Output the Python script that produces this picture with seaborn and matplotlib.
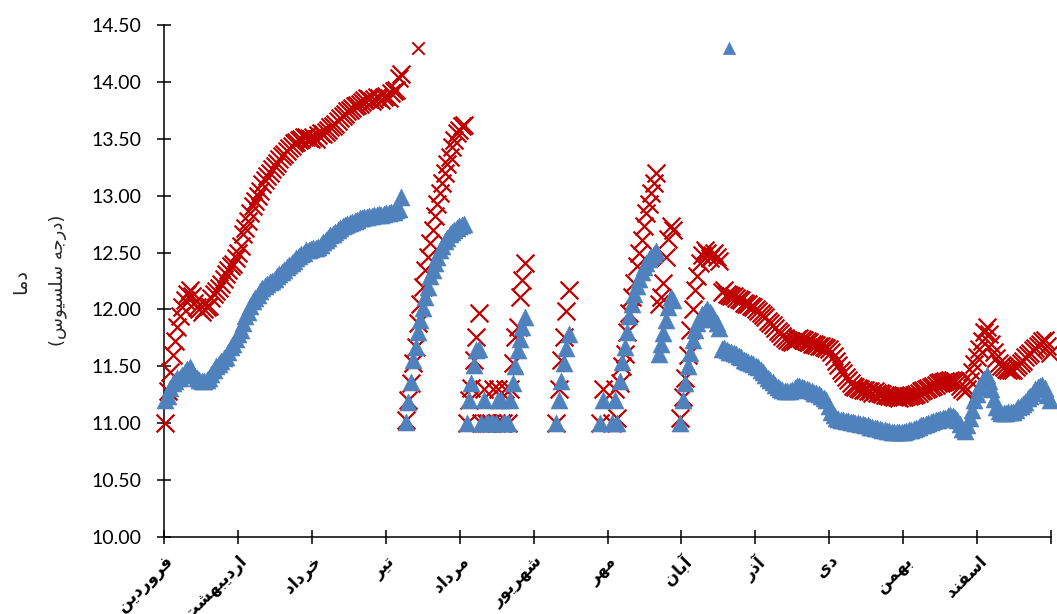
import numpy as np
import pandas as pd
import matplotlib
matplotlib.use("Agg")
import matplotlib.pyplot as plt
import seaborn as sns

# ---------------------------------------------------------------------------
# Data: daily temperature (deg C) for the Persian year, day 1 = 1 Farvardin.
# Each segment is (first day, values); None = no reading that day.
# ---------------------------------------------------------------------------
months = ['فروردین', 'اردیبهشت', 'خرداد', 'تیر', 'مرداد', 'شهریور',
          'مهر', 'آبان', 'آذر', 'دی', 'بهمن', 'اسفند']
n_days = 365
y_ticks = [10.0, 10.5, 11.0, 11.5, 12.0, 12.5, 13.0, 13.5, 14.0, 14.5]

red_s1 = [11.00, 11.28, 11.45, 11.60, 11.72, 11.85, 11.94, 12.02, 12.08, 12.14,
          12.17, 12.12, 12.06, 12.02, 12.00, 11.98, 12.00, 12.02, 12.03, 12.10,
          12.14, 12.16, 12.19, 12.22, 12.27, 12.31, 12.35, 12.38, 12.40, 12.45,
          12.50, 12.56, 12.66, 12.72, 12.78, 12.85, 12.91, 12.95, 13.00, 13.04,
          13.10, 13.14, 13.17, 13.20, 13.23, 13.26, 13.29, 13.32, 13.35, 13.37,
          13.39, 13.42, 13.44, 13.46, 13.47, 13.49, 13.50, 13.52, 13.52, 13.51,
          13.50, 13.52, 13.50, 13.53, 13.55, 13.54, 13.56, 13.58, 13.60, 13.61,
          13.63, 13.66, 13.68, 13.70, 13.72, 13.74, 13.75, 13.77, 13.79, 13.80,
          13.81, 13.82, 13.84, 13.86, 13.85, 13.83, 13.85, 13.87, 13.86, 13.84,
          13.87, 13.88, 13.86, 13.90, 13.92, 13.93, 14.03, 14.07]
blue_s1 = [11.20, 11.24, 11.31, 11.35, 11.37, 11.40, 11.40, 11.42, 11.45, 11.48,
           11.49, 11.46, 11.42, 11.40, 11.38, 11.37, 11.37, 11.38, 11.40, 11.43,
           11.47, 11.50, 11.52, 11.55, 11.57, 11.58, 11.63, 11.67, 11.70, 11.74,
           11.78, 11.82, 11.88, 11.94, 11.98, 12.03, 12.07, 12.10, 12.13, 12.16,
           12.19, 12.21, 12.22, 12.24, 12.25, 12.27, 12.29, 12.31, 12.33, 12.35,
           12.37, 12.39, 12.41, 12.43, 12.45, 12.47, 12.49, 12.50, 12.52, 12.52,
           12.53, 12.54, 12.54, 12.55, 12.57, 12.59, 12.61, 12.63, 12.65, 12.66,
           12.68, 12.70, 12.72, 12.73, 12.74, 12.75, 12.76, 12.77, 12.78, 12.79,
           12.80, 12.80, 12.81, 12.81, 12.82, 12.82, 12.83, 12.83, 12.84, 12.83,
           12.84, 12.85, 12.85, 12.86, 12.86, 12.87, 12.88, 12.99]

red_s2 = [11.03, 11.20, 11.35, 11.53, 11.67, 11.88, 12.05, 12.20, 12.35, 12.46,
          12.58, 12.70, 12.82, 12.93, 13.02, 13.11, 13.20, 13.28, 13.34, 13.43,
          13.49, 13.55, 13.58, 13.61, 13.62]
blue_s2 = [11.01, 11.19, 11.36, 11.56, 11.67, 11.80, 11.91, 12.01, 12.11, 12.20,
           12.29, 12.35, 12.41, 12.46, 12.52, 12.56, 12.60, 12.63, 12.66, 12.68,
           12.70, 12.72, 12.73, 12.74, 12.75]

red_s3 = [11.00, 11.20, 11.31, 11.56, 11.76, 11.97, 11.00, 11.30, 11.00, 11.00,
          11.00, 11.30, 11.00, 11.30, 11.00, 11.00, 11.30, 11.00, 11.30, 11.53,
          11.76, 11.85, 12.11, 12.26, 12.41]
blue_s3 = [11.00, 11.20, 11.35, 11.51, 11.64, 11.65, 11.00, 11.20, 11.00, 11.00,
           11.00, 11.00, 11.00, 11.20, 11.20, 11.00, 11.00, 11.00, 11.20, 11.35,
           11.50, 11.64, 11.74, 11.85, 11.93]

red_s4 = [11.00, 11.30, 11.56, 11.76, 11.99, 12.17]
blue_s4 = [11.00, 11.20, 11.37, 11.53, 11.66, 11.78]

red_s5 = [11.00, 11.30, None, None, None,
          11.00, 11.30, 11.05, 11.35, 11.50, 11.61, 11.80, 11.97, 12.11, 12.23,
          12.38, 12.50, 12.61, 12.73, 12.85, 12.93, 13.02, 13.11, 13.20, 12.05,
          12.11, 12.23, 12.46, 12.62, 12.73, 12.70, None, None,
          11.05, 11.23, 11.40, 11.60, 11.82, 12.00, 12.17, 12.29, 12.41, 12.48,
          12.52, 12.50, 12.45, 12.48, 12.50, 12.46, 12.43]
blue_s5 = [11.00, 11.20, None, None, None,
           11.00, 11.20, 11.00, 11.37, 11.54, 11.67, 11.80, 11.94, 12.05, 12.14,
           12.21, 12.27, 12.33, 12.37, 12.41, 12.44, 12.47, 12.49, 12.51, 11.61,
           11.70, 11.79, 11.91, 12.02, 12.11, 12.08, None, None,
           11.00, 11.20, 11.35, 11.50, 11.62, 11.73, 11.82, 11.88, 11.92, 11.96,
           11.98, 12.00, 11.98, 11.95, 11.92, 11.88, 11.84]

red_s6 = [12.15, 12.17, 12.14, 12.13, 12.12, 12.12, 12.10, 12.09, 12.08, 12.06,
          12.05, 12.05, 12.03, 12.02, 12.00, 11.99, 11.97, 11.95, 11.93, 11.90,
          11.88, 11.86, 11.84, 11.81, 11.79, 11.77, 11.75, 11.73, 11.72, 11.71,
          11.72, 11.74, 11.75, 11.74, 11.73, 11.72, 11.71, 11.70, 11.70, 11.69,
          11.68, 11.68, 11.67, 11.66, 11.65, 11.63, 11.59, 11.55, 11.51, 11.47,
          11.44, 11.41, 11.38, 11.35, 11.33, 11.32, 11.31, 11.30, 11.29, 11.29,
          11.28, 11.28, 11.27, 11.28, 11.27, 11.27, 11.26, 11.25, 11.25, 11.24,
          11.24, 11.23, 11.23, 11.22, 11.23, 11.23, 11.24, 11.24, 11.25, 11.25,
          11.26, 11.27, 11.28, 11.29, 11.30, 11.31, 11.32, 11.33, 11.34, 11.35,
          11.36, 11.36, 11.37, 11.37, 11.38, 11.38, 11.37, 11.35, 11.33, 11.30,
          11.28, 11.30, 11.37, 11.45, 11.52, 11.58, 11.65, 11.72, 11.80, 11.85,
          11.78, 11.70, 11.63, 11.57, 11.53, 11.50, 11.49, 11.48, 11.47, 11.47,
          11.47, 11.49, 11.51, 11.53, 11.55, 11.58, 11.60, 11.62, 11.64, 11.66,
          11.68, 11.70, 11.72, 11.73, 11.68, 11.62]
blue_s6 = [11.65, 11.66, 11.64, 11.63, 11.63, 11.62, 11.61, 11.59, 11.58, 11.56,
           11.55, 11.54, 11.53, 11.52, 11.50, 11.49, 11.47, 11.45, 11.42, 11.40,
           11.38, 11.36, 11.34, 11.32, 11.30, 11.29, 11.28, 11.28, 11.28, 11.29,
           11.31, 11.33, 11.33, 11.32, 11.31, 11.30, 11.29, 11.28, 11.27, 11.27,
           11.26, 11.24, 11.22, 11.20, 11.15, 11.10, 11.07, 11.05, 11.04, 11.03,
           11.03, 11.02, 11.02, 11.01, 11.01, 11.00, 11.00, 10.99, 10.99, 10.98,
           10.98, 10.97, 10.97, 10.96, 10.96, 10.95, 10.94, 10.94, 10.93, 10.93,
           10.92, 10.92, 10.92, 10.92, 10.92, 10.92, 10.93, 10.94, 10.94, 10.95,
           10.96, 10.97, 10.98, 10.98, 10.99, 11.00, 11.01, 11.02, 11.03, 11.03,
           11.04, 11.05, 11.05, 11.06, 11.07, 11.06, 11.05, 11.03, 10.99, 10.95,
           10.93, 10.98, 11.05, 11.12, 11.20, 11.26, 11.32, 11.36, 11.39, 11.42,
           11.37, 11.30, 11.21, 11.14, 11.11, 11.09, 11.09, 11.09, 11.10, 11.10,
           11.10, 11.12, 11.14, 11.15, 11.17, 11.19, 11.22, 11.24, 11.27, 11.30,
           11.32, 11.33, 11.34, 11.31, 11.25, 11.20]

seg_start = [1, 100, 125, 162, 180, 230]
red_segments = [red_s1, red_s2, red_s3, red_s4, red_s5, red_s6]
blue_segments = [blue_s1, blue_s2, blue_s3, blue_s4, blue_s5, blue_s6]

# isolated daily maxima drawn with a smaller marker
red_peak_day, red_peak_val = [105], [14.30]
blue_peak_day, blue_peak_val = [233], [14.30]


def series_frame(starts, segments):
    days, vals = [], []
    for start, values in zip(starts, segments):
        for k, v in enumerate(values):
            if v is not None:
                days.append(start + k)
                vals.append(v)
    return pd.DataFrame({"day": days, "temp": vals})


# --- minimal Persian shaping (contextual forms + visual order) -------------
_FORMS = {
    'ا': ('\uFE8D', '\uFE8E', None, None),
    'آ': ('\uFE81', '\uFE82', None, None),
    'ب': ('\uFE8F', '\uFE90', '\uFE91', '\uFE92'),
    'ت': ('\uFE95', '\uFE96', '\uFE97', '\uFE98'),
    'ج': ('\uFE9D', '\uFE9E', '\uFE9F', '\uFEA0'),
    'خ': ('\uFEA5', '\uFEA6', '\uFEA7', '\uFEA8'),
    'د': ('\uFEA9', '\uFEAA', None, None),
    'ذ': ('\uFEAB', '\uFEAC', None, None),
    'ر': ('\uFEAD', '\uFEAE', None, None),
    'ز': ('\uFEAF', '\uFEB0', None, None),
    'س': ('\uFEB1', '\uFEB2', '\uFEB3', '\uFEB4'),
    'ش': ('\uFEB5', '\uFEB6', '\uFEB7', '\uFEB8'),
    'ف': ('\uFED1', '\uFED2', '\uFED3', '\uFED4'),
    'ل': ('\uFEDD', '\uFEDE', '\uFEDF', '\uFEE0'),
    'م': ('\uFEE1', '\uFEE2', '\uFEE3', '\uFEE4'),
    'ن': ('\uFEE5', '\uFEE6', '\uFEE7', '\uFEE8'),
    'ه': ('\uFEE9', '\uFEEA', '\uFEEB', '\uFEEC'),
    'و': ('\uFEED', '\uFEEE', None, None),
    'ی': ('\uFEEF', '\uFEF0', '\uFEF3', '\uFEF4'),
}
_MIRROR = {'(': ')', ')': '('}


def fa(text):
    out = []
    for i, c in enumerate(text):
        if c not in _FORMS:
            out.append(c)
            continue
        prev_j = i > 0 and text[i - 1] in _FORMS and _FORMS[text[i - 1]][2] is not None
        next_j = (_FORMS[c][2] is not None and i + 1 < len(text)
                  and text[i + 1] in _FORMS)
        iso, fin, ini, med = _FORMS[c]
        if prev_j and next_j:
            out.append(med)
        elif prev_j:
            out.append(fin)
        elif next_j:
            out.append(ini)
        else:
            out.append(iso)
    return ''.join(_MIRROR.get(ch, ch) for ch in reversed(out))


red_df = series_frame(seg_start, red_segments)
blue_df = series_frame(seg_start, blue_segments)
red_pk = pd.DataFrame({"day": red_peak_day, "temp": red_peak_val})
blue_pk = pd.DataFrame({"day": blue_peak_day, "temp": blue_peak_val})

sns.set_style("ticks")
plt.rcParams["font.family"] = ["Lato", "DejaVu Sans"]

RED = "#C00000"
BLUE = "#4F81BD"

fig = plt.figure(figsize=(10.57, 6.14), dpi=100)
ax = fig.add_axes([164 / 1057, 77 / 614, 887 / 1057, 512 / 614])

sns.scatterplot(data=red_df, x="day", y="temp", marker="x", color=RED,
                s=165, linewidth=1.6, ax=ax, clip_on=False, zorder=3)
sns.scatterplot(data=red_pk, x="day", y="temp", marker="x", color=RED,
                s=80, linewidth=1.4, ax=ax, clip_on=False, zorder=3)
sns.scatterplot(data=blue_df, x="day", y="temp", marker="^", color=BLUE,
                edgecolor=BLUE, s=150, linewidth=0.4, ax=ax, clip_on=False,
                zorder=4)
sns.scatterplot(data=blue_pk, x="day", y="temp", marker="^", color=BLUE,
                edgecolor=BLUE, s=80, linewidth=0.4, ax=ax, clip_on=False,
                zorder=4)

ax.set_xlim(0.5, n_days + 0.5)
ax.set_ylim(y_ticks[0], y_ticks[-1])
ax.set_yticks(y_ticks)
ax.set_yticklabels([f"{v:.2f}" for v in y_ticks], fontsize=14, family="Lato")

tick_pos = 0.5 + np.arange(13) * n_days / 12
ax.set_xticks(tick_pos)
ax.set_xticklabels([fa(m) for m in months] + [""], rotation=45, ha="right",
                   va="top", rotation_mode="anchor", fontsize=12,
                   fontweight="bold", family="DejaVu Sans")

ax.set_xlabel("")
ax.set_ylabel("")
for side in ("top", "right"):
    ax.spines[side].set_visible(False)
for side in ("left", "bottom"):
    ax.spines[side].set_color("black")
    ax.spines[side].set_linewidth(1.1)
ax.tick_params(axis="both", direction="inout", length=10, width=1.1,
               color="black", labelcolor="black")
ax.tick_params(axis="y", pad=11)
ax.tick_params(axis="x", pad=6)

fig.text(21 / 1057, 1 - 281 / 614, fa("دما"), rotation=90, ha="center",
         va="center", fontsize=14, family="DejaVu Sans")
fig.text(58 / 1057, 1 - 280 / 614, fa("(درجه سلسیوس)"), rotation=90,
         ha="center", va="center", fontsize=13, family="DejaVu Sans")

fig.savefig("out.png", dpi=100)
